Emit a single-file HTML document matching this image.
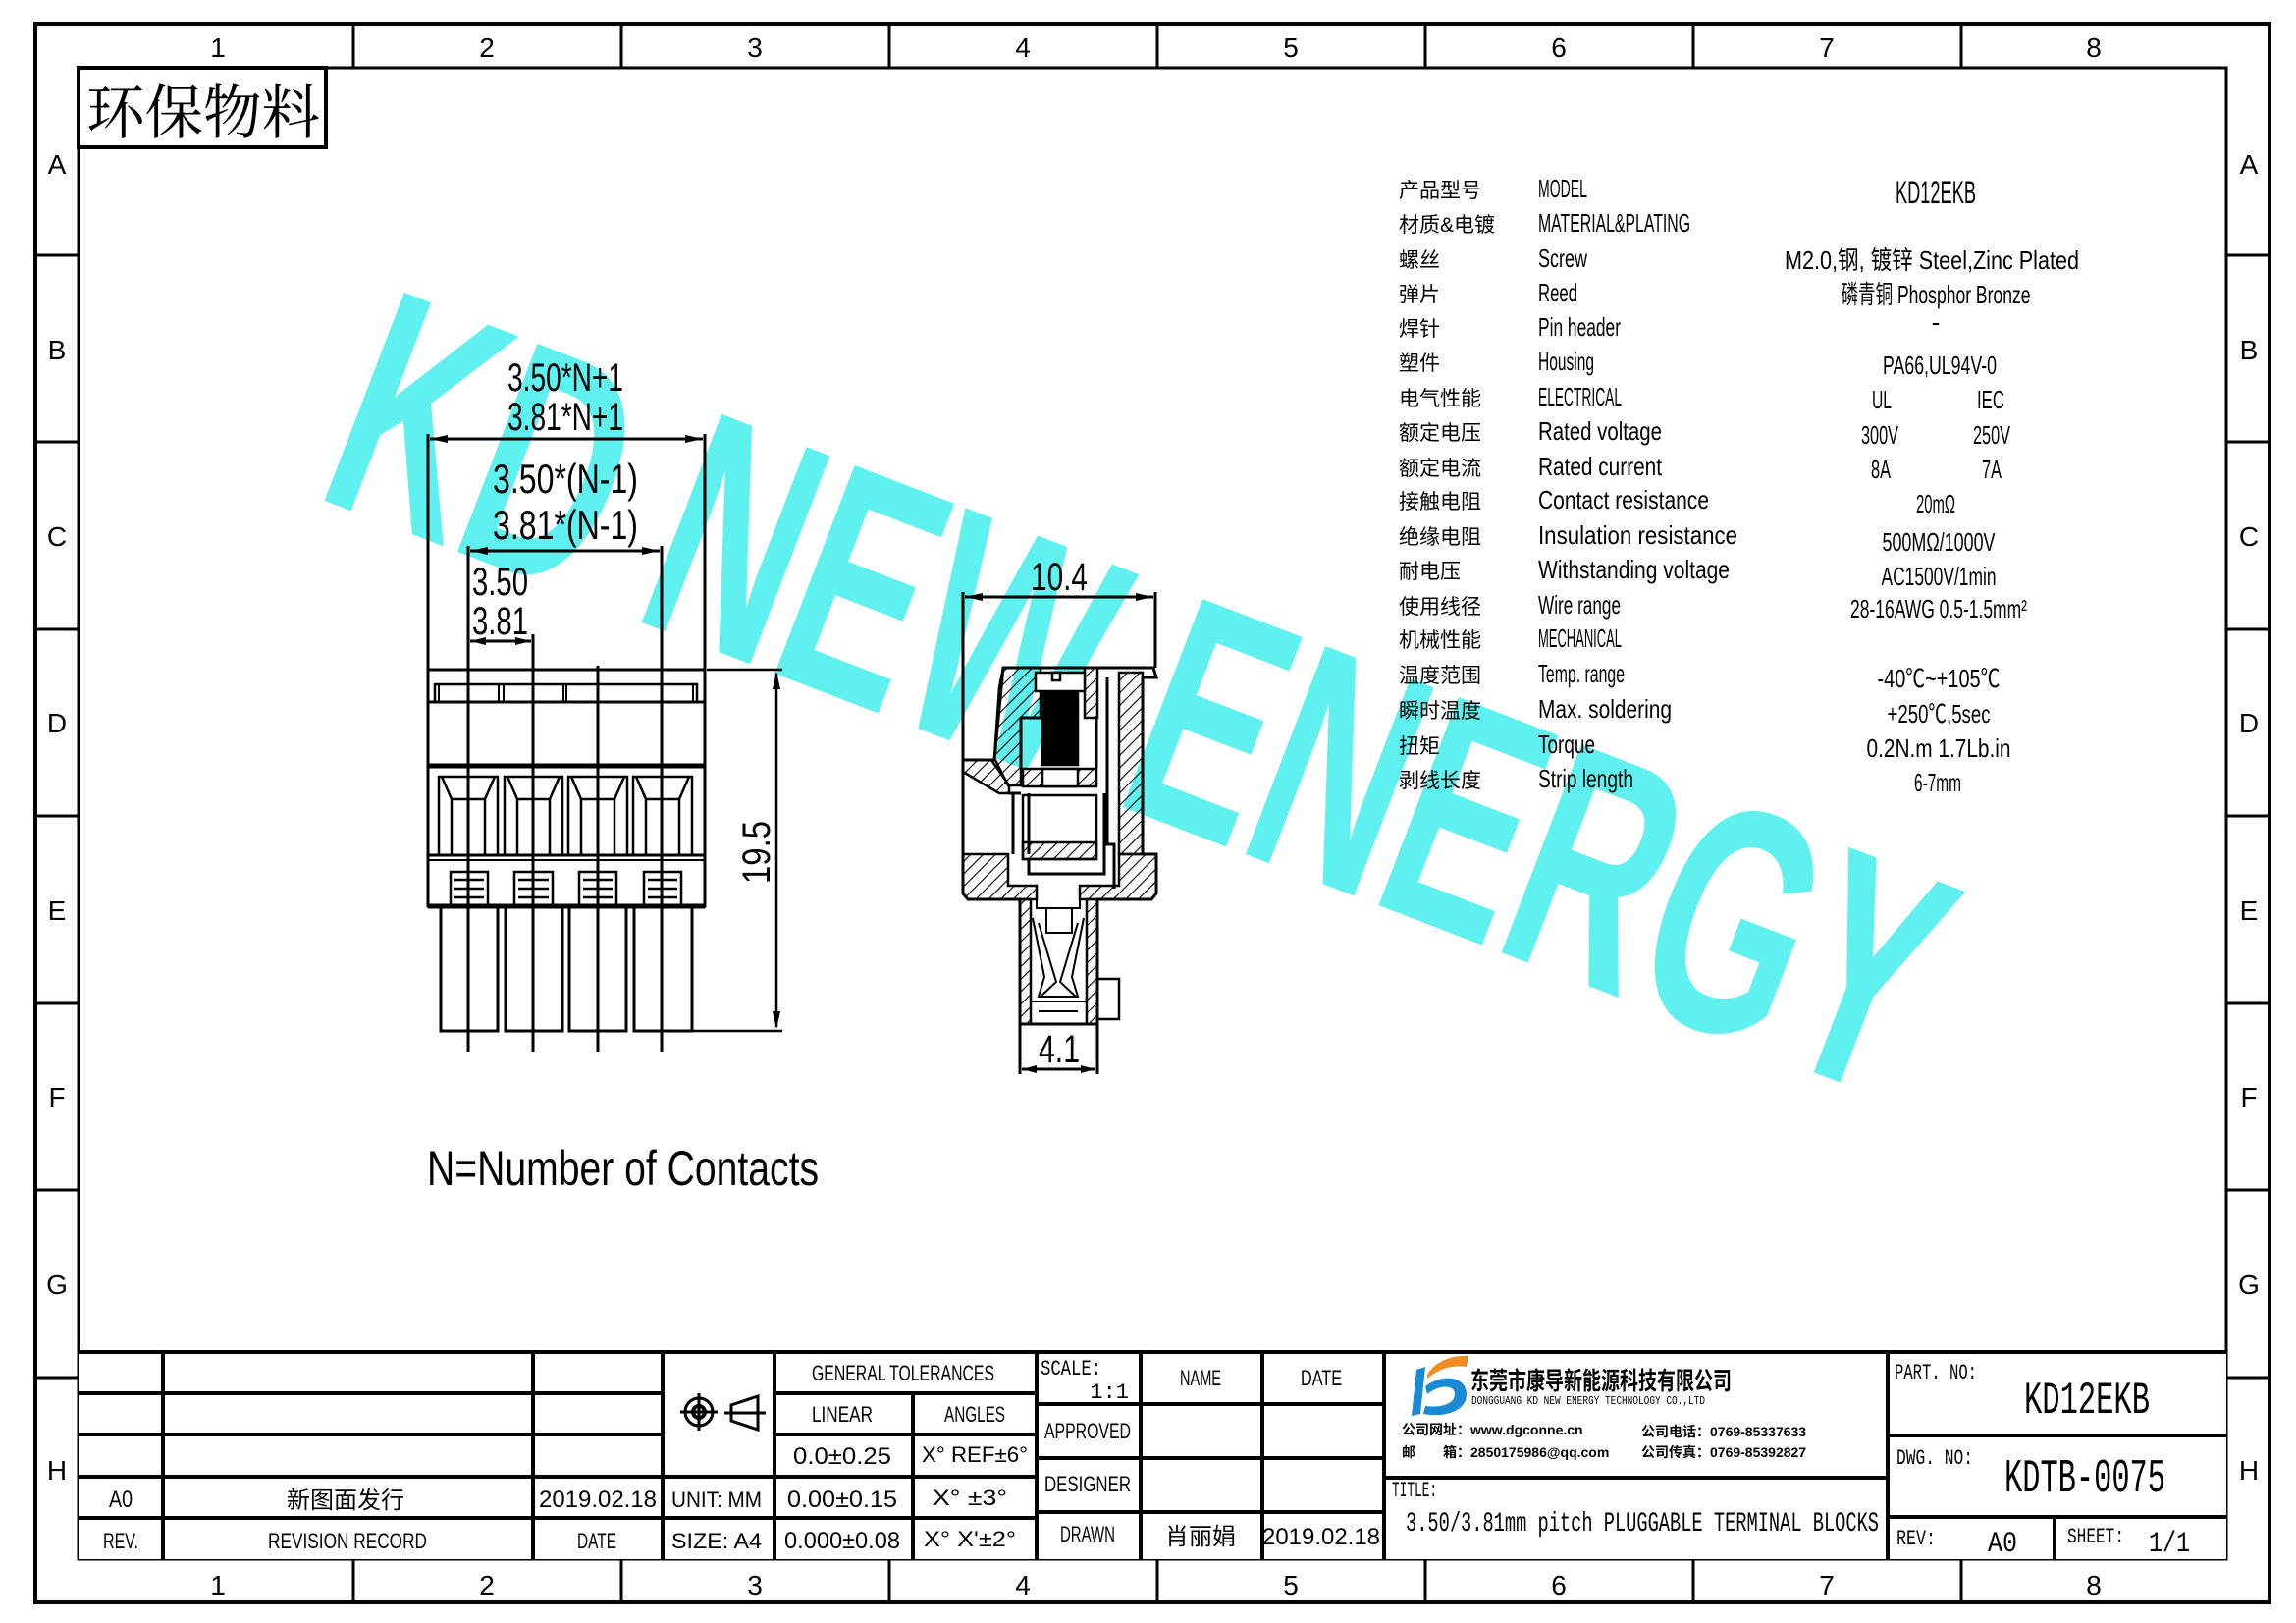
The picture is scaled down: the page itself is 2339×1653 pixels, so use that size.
<!DOCTYPE html>
<html><head><meta charset="utf-8"><style>
html,body{margin:0;padding:0;background:#fff;}
svg{display:block;}
text{font-family:"Liberation Sans","Noto Sans CJK SC",sans-serif;fill:#000;}
.m{font-family:"Liberation Mono","Noto Sans CJK SC",monospace;}
.cn{font-family:"Noto Sans CJK SC","WenQuanYi Zen Hei",sans-serif;}
.serif{font-family:"Liberation Serif","Noto Serif CJK SC",serif;}
</style></head><body>
<svg width="2339" height="1653" viewBox="0 0 2339 1653" xmlns="http://www.w3.org/2000/svg">
<defs>
<pattern id="h" width="9" height="9" patternUnits="userSpaceOnUse" patternTransform="rotate(45)"><line x1="0" y1="0" x2="0" y2="9" stroke="#000" stroke-width="2.2"/></pattern>
</defs>
<rect width="2339" height="1653" fill="#fff"/>

<!-- watermark -->
<text x="318" y="505" transform="rotate(21 318 505)" font-size="330" font-weight="bold" fill="#5ff0f0" style="fill:#5ff0f0" textLength="1720" lengthAdjust="spacingAndGlyphs">KD NEW ENERGY</text>

<!-- frame -->
<g fill="none" stroke="#000">
<rect x="36" y="24" width="2276" height="1608" stroke-width="4"/>
<rect x="80" y="69" width="2188" height="1519" stroke-width="3"/>
<g stroke-width="3">
<line x1="360" y1="24" x2="360" y2="69"/><line x1="633" y1="24" x2="633" y2="69"/><line x1="906" y1="24" x2="906" y2="69"/><line x1="1179" y1="24" x2="1179" y2="69"/><line x1="1452" y1="24" x2="1452" y2="69"/><line x1="1725" y1="24" x2="1725" y2="69"/><line x1="1998" y1="24" x2="1998" y2="69"/>
<line x1="360" y1="1588" x2="360" y2="1632"/><line x1="633" y1="1588" x2="633" y2="1632"/><line x1="906" y1="1588" x2="906" y2="1632"/><line x1="1179" y1="1588" x2="1179" y2="1632"/><line x1="1452" y1="1588" x2="1452" y2="1632"/><line x1="1725" y1="1588" x2="1725" y2="1632"/><line x1="1998" y1="1588" x2="1998" y2="1632"/>
<line x1="36" y1="260" x2="80" y2="260"/><line x1="36" y1="450" x2="80" y2="450"/><line x1="36" y1="641" x2="80" y2="641"/><line x1="36" y1="831" x2="80" y2="831"/><line x1="36" y1="1022" x2="80" y2="1022"/><line x1="36" y1="1212" x2="80" y2="1212"/><line x1="36" y1="1403" x2="80" y2="1403"/>
<line x1="2268" y1="260" x2="2312" y2="260"/><line x1="2268" y1="450" x2="2312" y2="450"/><line x1="2268" y1="641" x2="2312" y2="641"/><line x1="2268" y1="831" x2="2312" y2="831"/><line x1="2268" y1="1022" x2="2312" y2="1022"/><line x1="2268" y1="1212" x2="2312" y2="1212"/><line x1="2268" y1="1403" x2="2312" y2="1403"/>
</g></g>
<g font-size="28" text-anchor="middle" class="serif">
<text x="222" y="58">1</text><text x="496" y="58">2</text><text x="769" y="58">3</text><text x="1042" y="58">4</text><text x="1315" y="58">5</text><text x="1588" y="58">6</text><text x="1861" y="58">7</text><text x="2133" y="58">8</text>
<text x="222" y="1624">1</text><text x="496" y="1624">2</text><text x="769" y="1624">3</text><text x="1042" y="1624">4</text><text x="1315" y="1624">5</text><text x="1588" y="1624">6</text><text x="1861" y="1624">7</text><text x="2133" y="1624">8</text>
<text x="58" y="177">A</text><text x="58" y="366">B</text><text x="58" y="556">C</text><text x="58" y="746">D</text><text x="58" y="937">E</text><text x="58" y="1127">F</text><text x="58" y="1318">G</text><text x="58" y="1507">H</text>
<text x="2291" y="177">A</text><text x="2291" y="366">B</text><text x="2291" y="556">C</text><text x="2291" y="746">D</text><text x="2291" y="937">E</text><text x="2291" y="1127">F</text><text x="2291" y="1318">G</text><text x="2291" y="1507">H</text>
</g>

<!-- 环保物料 -->
<rect x="80" y="69" width="252" height="81" fill="none" stroke="#000" stroke-width="4"/>
<text x="88" y="136" font-size="60" class="serif" textLength="238" lengthAdjust="spacingAndGlyphs">环保物料</text>

<!-- Drawing 1 -->
<g stroke="#000" fill="none" stroke-width="3">
<line x1="436" y1="442" x2="436" y2="682"/><line x1="718" y1="442" x2="718" y2="682"/>
<line x1="438" y1="447" x2="716" y2="447"/>
<line x1="477" y1="556" x2="477" y2="1071"/><line x1="674" y1="556" x2="674" y2="1071"/>
<line x1="479" y1="561" x2="672" y2="561"/>
<line x1="543" y1="646" x2="543" y2="1071"/><line x1="609" y1="678" x2="609" y2="1071"/>
<line x1="479" y1="653" x2="541" y2="653"/>
<rect x="436" y="682" width="282" height="241"/>
<rect x="443" y="697" width="267" height="18" stroke-width="2.5"/>
<line x1="447" y1="697" x2="447" y2="715" stroke-width="2"/><line x1="706" y1="697" x2="706" y2="715" stroke-width="2"/>
<line x1="508" y1="697" x2="508" y2="715" stroke-width="2"/><line x1="513" y1="697" x2="513" y2="715" stroke-width="2"/>
<line x1="574" y1="697" x2="574" y2="715" stroke-width="2"/><line x1="577" y1="697" x2="577" y2="715" stroke-width="2"/>
<line x1="436" y1="715" x2="718" y2="715"/>
<line x1="436" y1="780" x2="718" y2="780" stroke-width="5"/>
<line x1="436" y1="871" x2="718" y2="871"/><line x1="436" y1="876" x2="718" y2="876" stroke-width="2"/>
<line x1="436" y1="923" x2="718" y2="923" stroke-width="5"/>
</g>
<g stroke="#000" fill="none" stroke-width="2.5">
<path d="M447 871V791H507V871M450 791L460 814H494L504 791M460 814V871M494 814V871"/>
<path d="M514 871V791H573V871M517 791L527 814H560L570 791M527 814V871M560 814V871"/>
<path d="M579 871V791H639V871M582 791L592 814H626L636 791M592 814V871M626 814V871"/>
<path d="M645 871V791H705V871M648 791L658 814H692L702 791M658 814V871M692 814V871"/>
<path d="M459 923V888H497V923M463 896H493M463 905H493M463 914H493"/>
<path d="M524 923V888H563V923M528 896H559M528 905H559M528 914H559"/>
<path d="M590 923V888H628V923M594 896H624M594 905H624M594 914H624"/>
<path d="M656 923V888H694V923M660 896H690M660 905H690M660 914H690"/>
<path d="M449 923V1050H507V923M515 923V1050H573V923M580 923V1050H638V923M646 923V1050H705V923" stroke-width="3"/>
<line x1="720" y1="682" x2="797" y2="682"/><line x1="705" y1="1050" x2="797" y2="1050"/>
<line x1="791" y1="686" x2="791" y2="1046"/>
</g>
<g fill="#000">
<path d="M438 447l18 -4v8z"/><path d="M716 447l-18 -4v8z"/>
<path d="M479 561l18 -4v8z"/><path d="M672 561l-18 -4v8z"/>
<path d="M479 653l16 -4v8z"/><path d="M541 653l-16 -4v8z"/>
<path d="M791 684l-4 18h8z"/><path d="M791 1048l-4 -18h8z"/>
</g>
<g class="serif" font-size="40">
<text x="517" y="398" textLength="118" lengthAdjust="spacingAndGlyphs">3.50*N+1</text>
<text x="517" y="438" textLength="118" lengthAdjust="spacingAndGlyphs">3.81*N+1</text>
<text x="502" y="502" font-size="42" textLength="148" lengthAdjust="spacingAndGlyphs">3.50*(N-1)</text>
<text x="502" y="549" font-size="42" textLength="148" lengthAdjust="spacingAndGlyphs">3.81*(N-1)</text>
<text x="481" y="606" textLength="57" lengthAdjust="spacingAndGlyphs">3.50</text>
<text x="481" y="646" textLength="57" lengthAdjust="spacingAndGlyphs">3.81</text>
<text x="0" y="0" transform="translate(784 900) rotate(-90)" textLength="64" lengthAdjust="spacingAndGlyphs">19.5</text>
<text x="1050" y="601" textLength="58" lengthAdjust="spacingAndGlyphs">10.4</text>
<text x="1058" y="1082" textLength="42" lengthAdjust="spacingAndGlyphs">4.1</text>
<text x="435" y="1207" font-size="50" textLength="399" lengthAdjust="spacingAndGlyphs">N=Number of Contacts</text>
</g>

<!-- Drawing 2 -->
<g stroke="#000" stroke-width="2.5">
<polygon points="1022,680 1060,680 1060,731 1040,731 1040,800 1027,800 1013,772 1018,700" fill="url(#h)"/>
<rect x="1105" y="680" width="13" height="51" fill="url(#h)"/>
<rect x="1140" y="685" width="24" height="185" fill="url(#h)"/>
<polygon points="981,774 1010,774 1028,800 1028,808 1018,808 981,786" fill="url(#h)"/>
<polygon points="981,870 1027,870 1027,902 1056,902 1056,916 986,916 981,910" fill="url(#h)"/>
<polygon points="1140,870 1178,870 1178,910 1173,916 1100,916 1100,902 1140,902" fill="url(#h)"/>
<rect x="1039" y="916" width="11" height="127" fill="url(#h)"/>
<rect x="1107" y="916" width="11" height="127" fill="url(#h)"/>
<rect x="1042" y="783" width="75" height="18" fill="url(#h)"/>
<rect x="1062" y="783" width="36" height="18" fill="#fff"/>
<rect x="1042" y="810" width="75" height="65" fill="#fff"/>
<rect x="1042" y="858" width="75" height="17" fill="url(#h)"/>
<rect x="1062" y="704" width="36" height="75" fill="#000"/>
<rect x="1055" y="685" width="50" height="19" fill="#fff"/>
<rect x="1072" y="685" width="8" height="8" fill="#fff"/>
<rect x="1118" y="997" width="22" height="41" fill="#fff"/>
</g>
<g stroke="#000" stroke-width="3" fill="none">
<path d="M1022 680H1175L1178 690H1164V870H1178V910L1173 916H1118V1043H1039V916H986L981 910V774H1013Z"/>
<path d="M1028 808H1040M1040 731V783M1117 731V783M1060 731H1040M1128 690V860H1135V905"/>
<path d="M1032 808V870M1048 808V870M1048 875V890H1125V875M1125 808V890"/>
<path d="M1056 916V925H1100V916M1066 925V950H1092V925M1052 935L1064 995L1058 1015H1098L1092 995L1104 935M1058 940L1076 1000L1060 1015M1098 940L1080 1000L1096 1015M1050 1020H1107M1058 1030H1098" stroke-width="2"/>
<line x1="981" y1="603" x2="981" y2="774"/><line x1="1177" y1="603" x2="1177" y2="680"/>
<line x1="983" y1="608" x2="1175" y2="608"/>
<line x1="1039" y1="1043" x2="1039" y2="1094"/><line x1="1118" y1="1043" x2="1118" y2="1094"/>
<line x1="1041" y1="1089" x2="1116" y2="1089"/>
</g>
<g fill="#000">
<path d="M983 608l18 -4v8z"/><path d="M1175 608l-18 -4v8z"/>
<path d="M1041 1089l15 -4v8z"/><path d="M1116 1089l-15 -4v8z"/>
</g>

<!-- spec table -->
<g font-size="21" class="cn">
<text x="1425" y="201">产品型号</text><text x="1425" y="236">材质&amp;电镀</text><text x="1425" y="272">螺丝</text><text x="1425" y="307">弹片</text><text x="1425" y="342">焊针</text><text x="1425" y="377">塑件</text><text x="1425" y="413">电气性能</text><text x="1425" y="448">额定电压</text><text x="1425" y="484">额定电流</text><text x="1425" y="518">接触电阻</text><text x="1425" y="554">绝缘电阻</text><text x="1425" y="589">耐电压</text><text x="1425" y="625">使用线径</text><text x="1425" y="659">机械性能</text><text x="1425" y="695">温度范围</text><text x="1425" y="731">瞬时温度</text><text x="1425" y="767">扭矩</text><text x="1425" y="802">剥线长度</text>
</g>
<g font-size="26" class="m">
<text x="1567" y="201" textLength="50" lengthAdjust="spacingAndGlyphs">MODEL</text>
<text x="1567" y="236" textLength="155" lengthAdjust="spacingAndGlyphs">MATERIAL&amp;PLATING</text>
<text x="1567" y="272" textLength="50" lengthAdjust="spacingAndGlyphs">Screw</text>
<text x="1567" y="307" textLength="40" lengthAdjust="spacingAndGlyphs">Reed</text>
<text x="1567" y="342" textLength="84" lengthAdjust="spacingAndGlyphs">Pin header</text>
<text x="1567" y="377" textLength="57" lengthAdjust="spacingAndGlyphs">Housing</text>
<text x="1567" y="413" textLength="85" lengthAdjust="spacingAndGlyphs">ELECTRICAL</text>
<text x="1567" y="448" textLength="126" lengthAdjust="spacingAndGlyphs">Rated voltage</text>
<text x="1567" y="484" textLength="126" lengthAdjust="spacingAndGlyphs">Rated current</text>
<text x="1567" y="518" textLength="174" lengthAdjust="spacingAndGlyphs">Contact resistance</text>
<text x="1567" y="554" textLength="203" lengthAdjust="spacingAndGlyphs">Insulation resistance</text>
<text x="1567" y="589" textLength="195" lengthAdjust="spacingAndGlyphs">Withstanding voltage</text>
<text x="1567" y="625" textLength="84" lengthAdjust="spacingAndGlyphs">Wire range</text>
<text x="1567" y="659" textLength="85" lengthAdjust="spacingAndGlyphs">MECHANICAL</text>
<text x="1567" y="695" textLength="88" lengthAdjust="spacingAndGlyphs">Temp. range</text>
<text x="1567" y="731" textLength="136" lengthAdjust="spacingAndGlyphs">Max. soldering</text>
<text x="1567" y="767" textLength="58" lengthAdjust="spacingAndGlyphs">Torque</text>
<text x="1567" y="802" textLength="97" lengthAdjust="spacingAndGlyphs">Strip length</text>
</g>
<g font-size="26" class="m" text-anchor="middle">
<text x="1972" y="207" font-size="32" textLength="82" lengthAdjust="spacingAndGlyphs">KD12EKB</text>
<text x="1968" y="274" textLength="300" lengthAdjust="spacingAndGlyphs">M2.0,钢, 镀锌 Steel,Zinc Plated</text>
<text x="1972" y="309" textLength="193" lengthAdjust="spacingAndGlyphs">磷青铜 Phosphor Bronze</text>
<text x="1972" y="337">-</text>
<text x="1976" y="381" textLength="116" lengthAdjust="spacingAndGlyphs">PA66,UL94V-0</text>
<text x="1917" y="416" textLength="20" lengthAdjust="spacingAndGlyphs">UL</text>
<text x="2028" y="416" textLength="28" lengthAdjust="spacingAndGlyphs">IEC</text>
<text x="1915" y="452" textLength="38" lengthAdjust="spacingAndGlyphs">300V</text>
<text x="2029" y="452" textLength="38" lengthAdjust="spacingAndGlyphs">250V</text>
<text x="1916" y="487" textLength="20" lengthAdjust="spacingAndGlyphs">8A</text>
<text x="2029" y="487" textLength="20" lengthAdjust="spacingAndGlyphs">7A</text>
<text x="1972" y="522" textLength="40" lengthAdjust="spacingAndGlyphs">20mΩ</text>
<text x="1975" y="561" textLength="115" lengthAdjust="spacingAndGlyphs">500MΩ/1000V</text>
<text x="1975" y="596" textLength="117" lengthAdjust="spacingAndGlyphs">AC1500V/1min</text>
<text x="1975" y="629" textLength="180" lengthAdjust="spacingAndGlyphs">28-16AWG 0.5-1.5mm²</text>
<text x="1975" y="700" textLength="125" lengthAdjust="spacingAndGlyphs">-40℃~+105℃</text>
<text x="1975" y="736" textLength="105" lengthAdjust="spacingAndGlyphs">+250℃,5sec</text>
<text x="1975" y="771" textLength="147" lengthAdjust="spacingAndGlyphs">0.2N.m 1.7Lb.in</text>
<text x="1974" y="806" textLength="48" lengthAdjust="spacingAndGlyphs">6-7mm</text>
</g>

<!-- title block -->
<rect x="80" y="1377" width="2188" height="211" fill="#fff"/>
<g stroke="#000" stroke-width="4" fill="none">
<line x1="80" y1="1377" x2="2268" y2="1377"/>
<line x1="80" y1="1419" x2="675" y2="1419"/><line x1="80" y1="1461" x2="675" y2="1461"/>
<line x1="80" y1="1504" x2="1056" y2="1504"/><line x1="80" y1="1546" x2="1056" y2="1546"/>
<line x1="789" y1="1419" x2="1056" y2="1419"/><line x1="789" y1="1461" x2="1056" y2="1461"/>
<line x1="1056" y1="1430" x2="1410" y2="1430"/><line x1="1056" y1="1485" x2="1410" y2="1485"/><line x1="1056" y1="1540" x2="1410" y2="1540"/>
<line x1="1410" y1="1505" x2="1923" y2="1505"/>
<line x1="1923" y1="1462" x2="2268" y2="1462"/><line x1="1923" y1="1545" x2="2268" y2="1545"/>
<line x1="166" y1="1377" x2="166" y2="1588"/><line x1="543" y1="1377" x2="543" y2="1588"/><line x1="675" y1="1377" x2="675" y2="1588"/><line x1="789" y1="1377" x2="789" y2="1588"/>
<line x1="930" y1="1419" x2="930" y2="1588"/><line x1="1056" y1="1377" x2="1056" y2="1588"/><line x1="1162" y1="1377" x2="1162" y2="1588"/><line x1="1286" y1="1377" x2="1286" y2="1588"/><line x1="1410" y1="1377" x2="1410" y2="1588"/><line x1="1923" y1="1377" x2="1923" y2="1588"/><line x1="2093" y1="1545" x2="2093" y2="1588"/>
</g>
<g stroke="#000" stroke-width="3" fill="none">
<circle cx="712" cy="1438" r="14"/><circle cx="712" cy="1438" r="6" stroke-width="4"/>
<line x1="693" y1="1438" x2="731" y2="1438"/><line x1="712" y1="1419" x2="712" y2="1457"/>
<path d="M745 1431L772 1422V1456L745 1447Z"/><line x1="738" y1="1439" x2="780" y2="1439"/>
</g>
<g class="m" font-size="22" text-anchor="middle">
<text x="920" y="1406" textLength="186" lengthAdjust="spacingAndGlyphs">GENERAL TOLERANCES</text>
<text x="858" y="1448" textLength="62" lengthAdjust="spacingAndGlyphs">LINEAR</text>
<text x="993" y="1448" textLength="62" lengthAdjust="spacingAndGlyphs">ANGLES</text>
<text x="858" y="1491" font-size="24" textLength="100" lengthAdjust="spacingAndGlyphs">0.0±0.25</text>
<text x="993" y="1489" textLength="108" lengthAdjust="spacingAndGlyphs">X° REF±6°</text>
<text x="123" y="1535" font-size="24" textLength="24" lengthAdjust="spacingAndGlyphs">A0</text>
<text x="352" y="1536" font-size="24" class="cn">新图面发行</text>
<text x="609" y="1535" font-size="24" textLength="120" lengthAdjust="spacingAndGlyphs">2019.02.18</text>
<text x="730" y="1535" textLength="92" lengthAdjust="spacingAndGlyphs">UNIT: MM</text>
<text x="858" y="1535" font-size="24" textLength="112" lengthAdjust="spacingAndGlyphs">0.00±0.15</text>
<text x="988" y="1533" textLength="76" lengthAdjust="spacingAndGlyphs">X° ±3°</text>
<text x="123" y="1577" textLength="36" lengthAdjust="spacingAndGlyphs">REV.</text>
<text x="354" y="1577" textLength="162" lengthAdjust="spacingAndGlyphs">REVISION RECORD</text>
<text x="608" y="1577" textLength="40" lengthAdjust="spacingAndGlyphs">DATE</text>
<text x="730" y="1577" textLength="92" lengthAdjust="spacingAndGlyphs">SIZE: A4</text>
<text x="858" y="1577" font-size="24" textLength="118" lengthAdjust="spacingAndGlyphs">0.000±0.08</text>
<text x="988" y="1575" textLength="94" lengthAdjust="spacingAndGlyphs">X° X'±2°</text>
<text x="1223" y="1411" textLength="42" lengthAdjust="spacingAndGlyphs">NAME</text>
<text x="1346" y="1411" textLength="42" lengthAdjust="spacingAndGlyphs">DATE</text>
<text x="1108" y="1465" textLength="88" lengthAdjust="spacingAndGlyphs">APPROVED</text>
<text x="1108" y="1519" textLength="88" lengthAdjust="spacingAndGlyphs">DESIGNER</text>
<text x="1108" y="1570" textLength="56" lengthAdjust="spacingAndGlyphs">DRAWN</text>
<text x="1223" y="1573" font-size="24" class="cn">肖丽娟</text>
<text x="1346" y="1573" font-size="24" textLength="120" lengthAdjust="spacingAndGlyphs">2019.02.18</text>
</g>
<text x="1060" y="1400" class="m" font-size="22" textLength="62" lengthAdjust="spacingAndGlyphs">SCALE:</text>
<text x="1150" y="1424" class="m" font-size="22" text-anchor="end">1:1</text>

<!-- company -->
<path d="M1443 1395L1452 1392L1447 1440L1438 1442Z" fill="#1a8ad4"/>
<path d="M1452 1412C1470 1398 1494 1402 1494 1420C1494 1438 1470 1444 1450 1440L1452 1432C1468 1434 1482 1430 1482 1420C1482 1410 1466 1410 1454 1420Z" fill="#1a8ad4"/>
<path d="M1454 1400C1462 1386 1480 1380 1496 1381L1494 1392C1478 1390 1466 1394 1454 1404Z" fill="#f08c22"/>
<text x="1498" y="1415" class="cn" font-size="25" font-weight="bold" textLength="266" lengthAdjust="spacingAndGlyphs">东莞市康导新能源科技有限公司</text>
<text x="1499" y="1430" class="m" font-size="12" textLength="238" lengthAdjust="spacingAndGlyphs">DONGGUANG KD NEW ENERGY TECHNOLOGY CO.,LTD</text>
<g font-size="14" font-weight="bold">
<text x="1428" y="1461"><tspan class="cn">公司网址：</tspan>www.dgconne.cn</text>
<text x="1672" y="1463"><tspan class="cn">公司电话：</tspan>0769-85337633</text>
<text x="1428" y="1484"><tspan class="cn">邮　　箱：</tspan>2850175986@qq.com</text>
<text x="1672" y="1484"><tspan class="cn">公司传真：</tspan>0769-85392827</text>
</g>
<text x="1418" y="1524" class="m" font-size="22" textLength="46" lengthAdjust="spacingAndGlyphs">TITLE:</text>
<text x="1432" y="1559" class="m" font-size="28" textLength="482" lengthAdjust="spacingAndGlyphs">3.50/3.81mm pitch PLUGGABLE TERMINAL BLOCKS</text>
<text x="1930" y="1404" class="m" font-size="22" textLength="84" lengthAdjust="spacingAndGlyphs">PART. NO:</text>
<text x="2126" y="1439" class="m" font-size="46" text-anchor="middle" textLength="128" lengthAdjust="spacingAndGlyphs">KD12EKB</text>
<text x="1932" y="1491" class="m" font-size="22" textLength="78" lengthAdjust="spacingAndGlyphs">DWG. NO:</text>
<text x="2124" y="1519" class="m" font-size="48" text-anchor="middle" textLength="164" lengthAdjust="spacingAndGlyphs">KDTB-0075</text>
<text x="1932" y="1573" class="m" font-size="22" textLength="40" lengthAdjust="spacingAndGlyphs">REV:</text>
<text x="2040" y="1580" class="m" font-size="30" text-anchor="middle" textLength="30" lengthAdjust="spacingAndGlyphs">A0</text>
<text x="2106" y="1571" class="m" font-size="22" textLength="58" lengthAdjust="spacingAndGlyphs">SHEET:</text>
<text x="2210" y="1580" class="m" font-size="30" text-anchor="middle" textLength="42" lengthAdjust="spacingAndGlyphs">1/1</text>
</svg>
</body></html>
